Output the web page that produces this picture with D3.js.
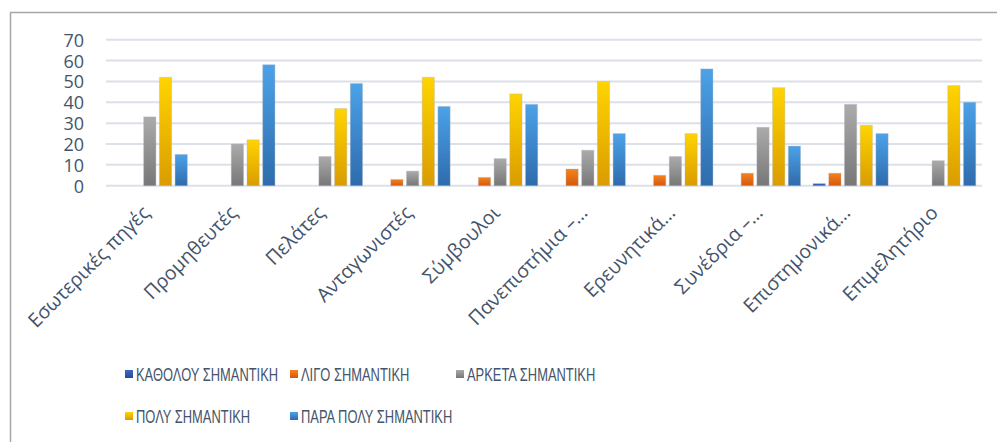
<!DOCTYPE html>
<html><head><meta charset="utf-8">
<script src="https://cdn.jsdelivr.net/npm/d3@7"></script>
<style>
html,body{margin:0;padding:0;background:#fff;}
svg{display:block;}
</style></head>
<body>
<svg id="chart" width="997" height="442"></svg>
<script>
const categories = ["Εσωτερικές πηγές","Προμηθευτές","Πελάτες","Ανταγωνιστές","Σύμβουλοι","Πανεπιστήμια –…","Ερευνητικά…","Συνέδρια –…","Επιστημονικά…","Επιμελητήριο"];
const seriesNames = ["ΚΑΘΟΛΟΥ ΣΗΜΑΝΤΙΚΗ","ΛΙΓΟ ΣΗΜΑΝΤΙΚΗ","ΑΡΚΕΤΑ ΣΗΜΑΝΤΙΚΗ","ΠΟΛΥ ΣΗΜΑΝΤΙΚΗ","ΠΑΡΑ ΠΟΛΥ ΣΗΜΑΝΤΙΚΗ"];
const kathólou   = [0,0,0,0,0,0,0,0,1,0];
const ligo       = [0,0,0,3,4,8,5,6,6,0];
const arketa     = [33,20,14,7,13,17,14,28,39,12];
const poly       = [52,22,37,52,44,50,25,47,29,48];
const paraPoly   = [15,58,49,38,39,25,56,19,25,40];
const yTicks = [0,10,20,30,40,50,60,70];

const seriesValues = [kathólou, ligo, arketa, poly, paraPoly];
const colorsTop    = ["#3E66C4","#F5821F","#ABABAB","#FFD400","#4CA2E8"];
const colorsBottom = ["#2A4A9C","#D4580C","#777777","#DA9C00","#2E6BAC"];

const svg = d3.select("#chart");
const W = 997, H = 442;
const plot = {left:106, right:982, top:39.7, bottom:185.7};

// frame
svg.append("path").attr("d", `M10.5,${H} L10.5,12.5 L${W},12.5`)
  .attr("fill","none").attr("stroke","#A6A6A6").attr("stroke-width",1.5);

// gradients
const defs = svg.append("defs");
seriesNames.forEach((s,i)=>{
  const g = defs.append("linearGradient").attr("id","g"+i).attr("x1",0).attr("y1",0).attr("x2",0).attr("y2",1);
  g.append("stop").attr("offset","0%").attr("stop-color",colorsTop[i]);
  g.append("stop").attr("offset","100%").attr("stop-color",colorsBottom[i]);
});

const y = d3.scaleLinear().domain([0,70]).range([plot.bottom, plot.top]);
const x0 = d3.scaleBand().domain(categories).range([plot.left, plot.right]).padding(0);
const groupPad = 6.25;
const x1 = d3.scaleBand().domain(d3.range(seriesNames.length))
  .range([groupPad, x0.bandwidth()-groupPad]).paddingInner(0.22).paddingOuter(0);

// gridlines
svg.append("g").selectAll("line").data(yTicks).join("line")
  .attr("x1",plot.left).attr("x2",plot.right)
  .attr("y1",d=>y(d)).attr("y2",d=>y(d))
  .attr("stroke","#DCE0E8").attr("stroke-width",2);

// y axis labels
const yAxis = d3.axisLeft(y).tickValues(yTicks).tickSize(0).tickPadding(0);
const yg = svg.append("g").attr("transform","translate(84,0)").call(yAxis);
yg.select(".domain").remove();
yg.selectAll("text").attr("font-family","'Open Sans', sans-serif").attr("font-size",18)
  .attr("fill","#44546A").attr("dy","0.36em");

// bars
const groups = svg.append("g").selectAll("g").data(categories).join("g")
  .attr("transform",d=>`translate(${x0(d)},0)`);
groups.selectAll("rect").data((d,ci)=>seriesValues.map((arr,si)=>({si, v:arr[ci]})).filter(o=>o.v>0))
  .join("rect")
  .attr("x",d=>x1(d.si)).attr("width",x1.bandwidth())
  .attr("y",d=>y(d.v)).attr("height",d=>y(0)-y(d.v))
  .attr("fill",d=>`url(#g${d.si})`)
  .attr("stroke","rgba(180,180,190,0.35)").attr("stroke-width",1);

// x labels
svg.append("g").selectAll("text").data(categories).join("text")
  .attr("transform",d=>`translate(${x0(d)+x0.bandwidth()/2+1},${214}) rotate(-45)`)
  .attr("text-anchor","end")
  .attr("font-family","'Open Sans', sans-serif").attr("font-size",19.5)
  .attr("fill","#44546A")
  .text(d=>d);

// legend
const legendCols = d3.scaleOrdinal().domain([0,1,2]).range([125,290,456]);
const legendRows = d3.scaleOrdinal().domain([0,1]).range([374,416]);
const colOf = [0,1,2,0,1], rowOf = [0,0,0,1,1];
const lg = svg.append("g").selectAll("g").data(seriesNames).join("g")
  .attr("transform",(d,i)=>`translate(${legendCols(colOf[i])},${legendRows(rowOf[i])})`);
lg.append("rect").attr("x",0).attr("y",-4).attr("width",8).attr("height",8)
  .attr("fill",(d,i)=>`url(#g${i})`);
lg.append("text").attr("x",0).attr("y",0).attr("dy","0.36em")
  .attr("transform","translate(11,0) scale(0.68,1)")
  .attr("font-family","'Liberation Sans', Arial, sans-serif").attr("font-size",19)
  .attr("fill","#44546A")
  .text(d=>d);
</script>
</body></html>
